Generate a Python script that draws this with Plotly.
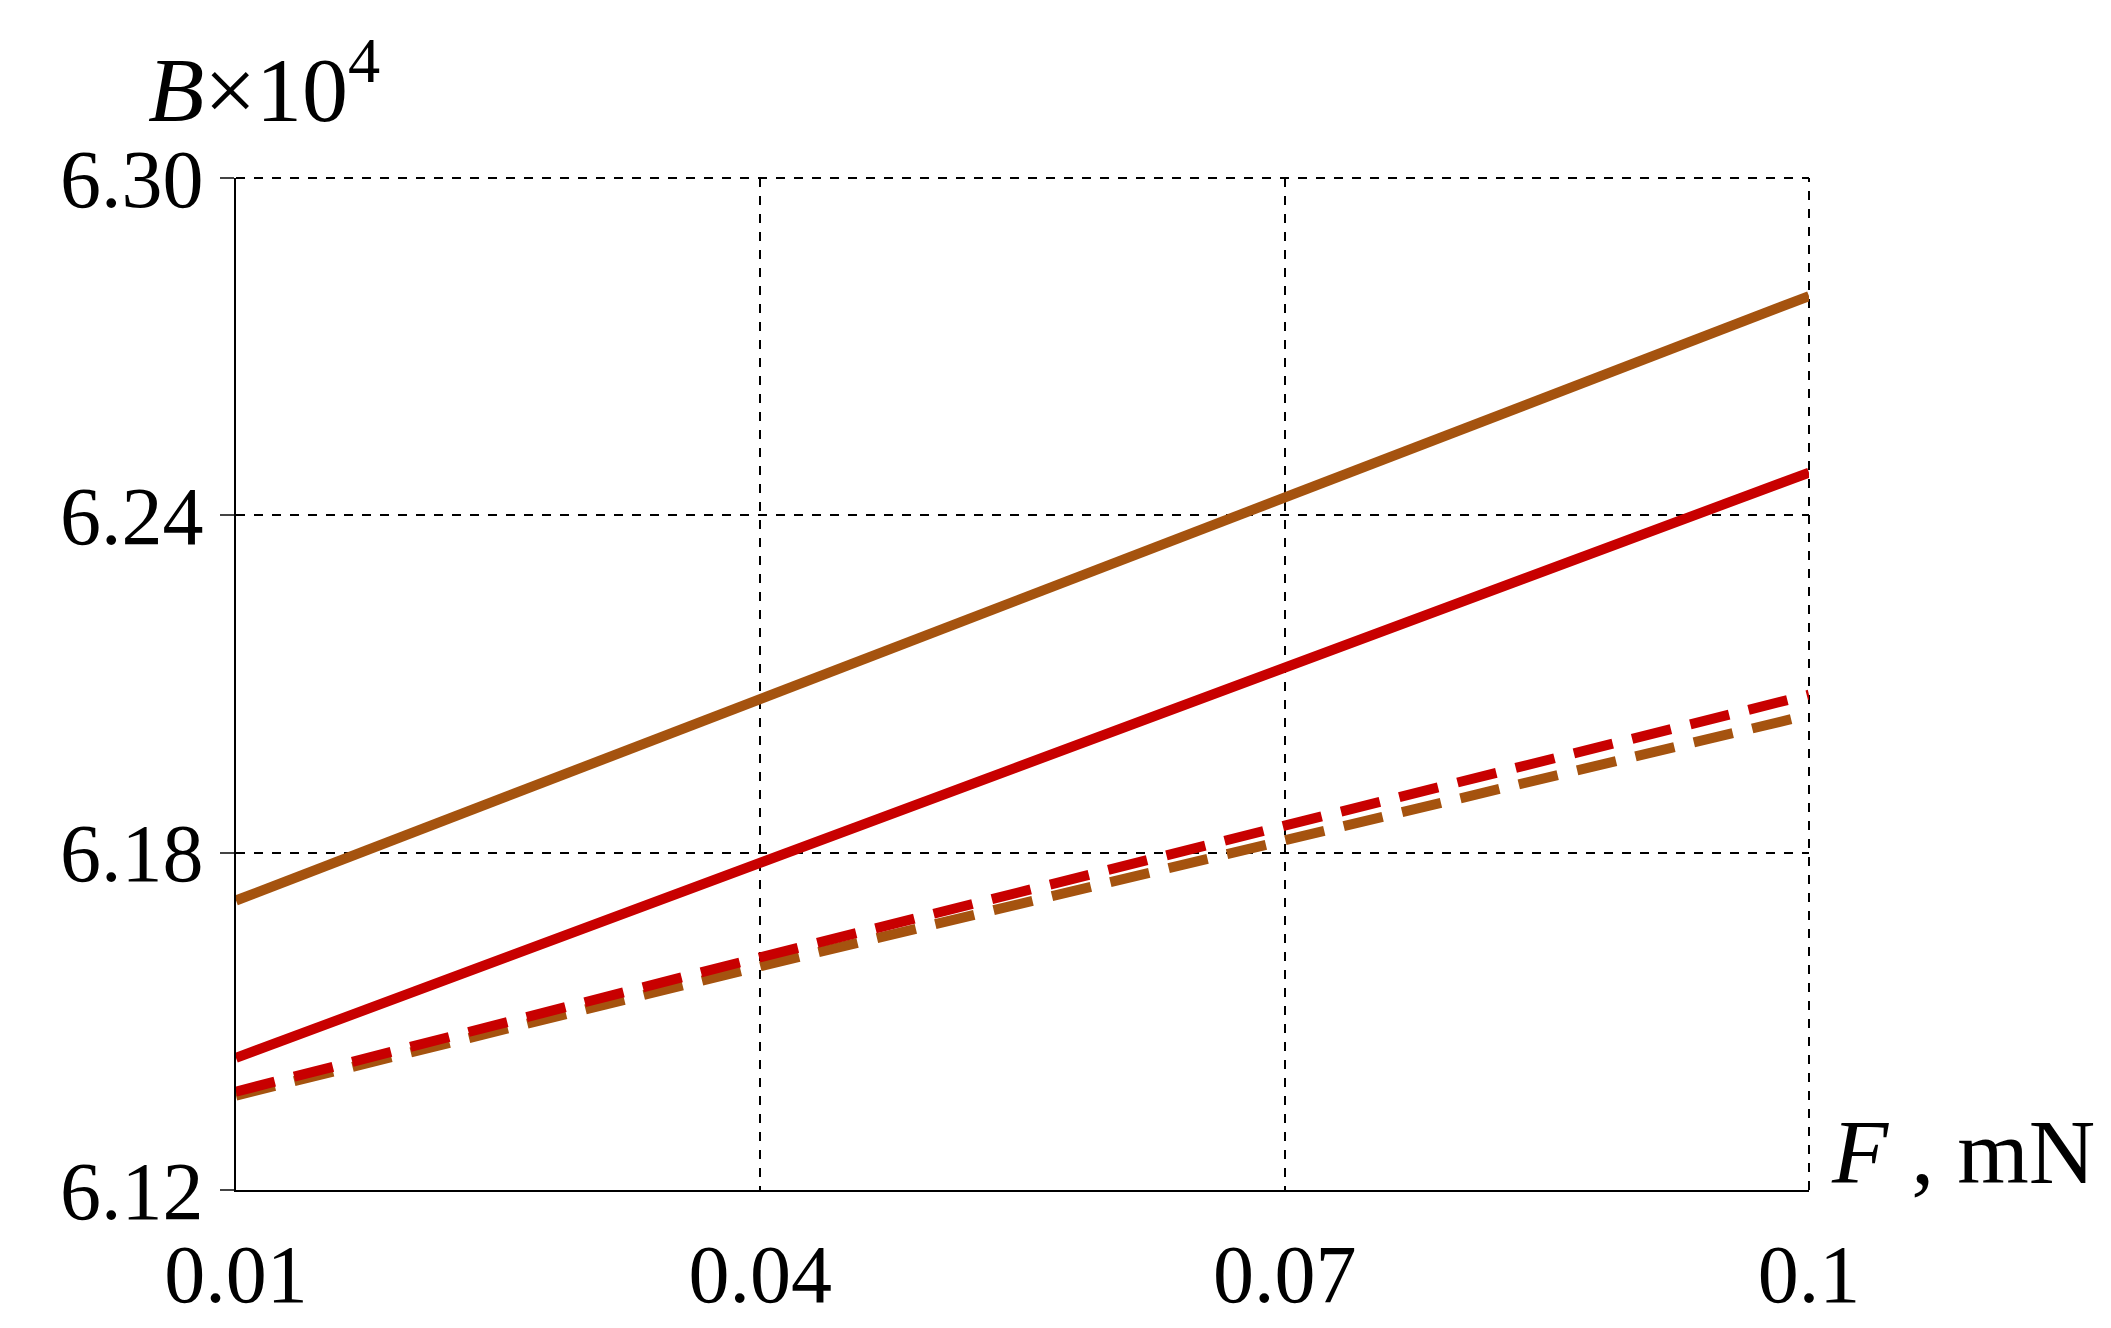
import plotly.graph_objects as go

F = [0.01, 0.04, 0.07, 0.1]
brown_solid = [6.1715, 6.2073, 6.2432, 6.279]
red_solid = [6.1435, 6.1782, 6.2129, 6.2476]
red_dash = [6.1375, 6.1614, 6.1848, 6.2081]
brown_dash = [6.1368, 6.1598, 6.1822, 6.2045]
xticks = [0.01, 0.04, 0.07, 0.1]
xlabels = ["0.01", "0.04", "0.07", "0.1"]
yticks = [6.12, 6.18, 6.24, 6.30]
ylabels = ["6.12", "6.18", "6.24", "6.30"]

BROWN = "#A5530F"
RED = "#C80000"
fig = go.Figure()
for y, c, d in [(brown_solid, BROWN, "solid"), (red_solid, RED, "solid"),
                (brown_dash, BROWN, "dash"), (red_dash, RED, "dash")]:
    fig.add_trace(go.Scatter(x=F, y=y, mode="lines",
                             line=dict(color=c, width=10, dash=d if d == "solid" else "40px,20px")))

fig.add_shape(type="line", xref="paper", yref="paper", x0=0, x1=1, y0=1, y1=1,
              line=dict(color="black", width=2, dash="dash"), layer="below")
fig.add_shape(type="line", xref="paper", yref="paper", x0=1, x1=1, y0=0, y1=1,
              line=dict(color="black", width=2, dash="dash"), layer="below")

fig.update_layout(
    width=2111, height=1328, plot_bgcolor="white", paper_bgcolor="white",
    showlegend=False, margin=dict(l=228, r=310, t=170, b=146),
    font=dict(family="Liberation Serif", size=82, color="black"),
    xaxis=dict(range=[0.01, 0.1], tickvals=xticks, ticktext=xlabels,
               showgrid=True, gridcolor="black", griddash="dash", gridwidth=2,
               showline=True, linecolor="black", linewidth=2, zeroline=False,
               ticks="outside", ticklen=12, tickcolor="white"),
    yaxis=dict(range=[6.12, 6.30], tickvals=yticks, ticktext=ylabels,
               showgrid=True, gridcolor="black", griddash="dash", gridwidth=2,
               showline=True, linecolor="black", linewidth=2, zeroline=False,
               ticks="outside", ticklen=14, tickwidth=2),
    annotations=[
        dict(text="<i>B</i>×10<sup>4</sup>", xref="paper", yref="paper", x=0, y=1,
             xshift=-90, yshift=35, xanchor="left", yanchor="bottom", showarrow=False,
             font=dict(size=92)),
        dict(text="<i>F</i> , mN", xref="paper", yref="paper", x=1, y=0,
             xshift=20, yshift=-15, xanchor="left", yanchor="bottom", showarrow=False,
             font=dict(size=92)),
    ],
)
fig.write_html("out.html")
